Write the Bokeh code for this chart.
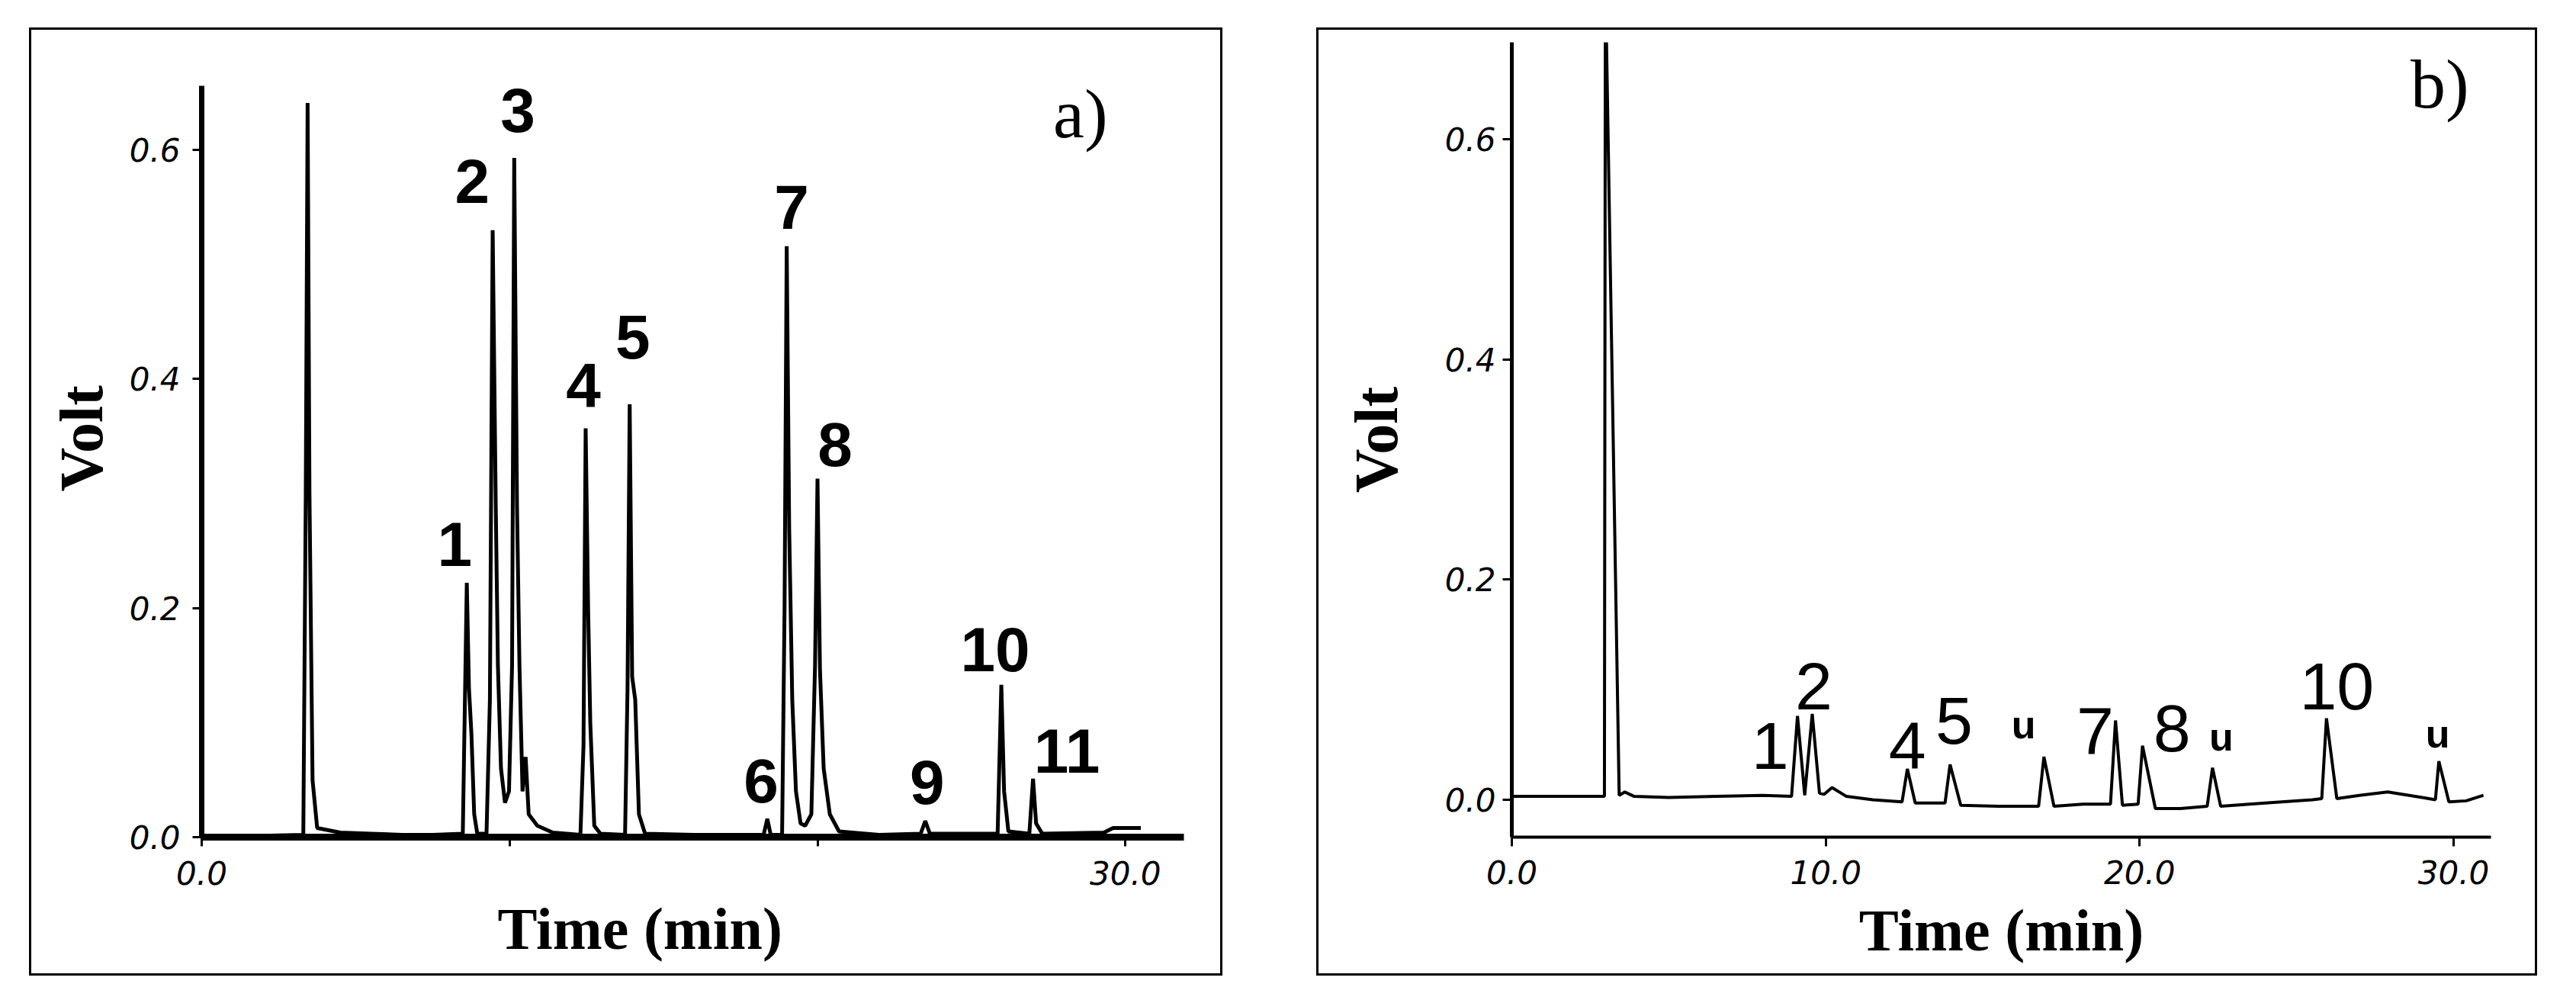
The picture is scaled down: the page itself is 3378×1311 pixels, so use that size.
from bokeh.plotting import figure
from bokeh.models import Label, FixedTicker, PrintfTickFormatter, Range1d, Spacer, Title
from bokeh.layouts import row, column
from bokeh.embed import file_html
from bokeh.resources import INLINE
from bokeh.core.properties import value

# ---------------- Panel a) data (time in min, signal in Volt) ----------------
time_a = [0.0, 3.30, 3.38, 3.44, 3.50, 3.60, 3.75, 4.5, 5.5, 6.5, 7.5,
          8.48, 8.61, 8.68, 8.76, 8.85, 8.95, 9.25, 9.36, 9.45, 9.55, 9.62, 9.72,
          9.85, 9.98, 10.08, 10.15, 10.24, 10.32, 10.42, 10.52, 10.62, 10.90, 11.40,
          12.30, 12.40, 12.47, 12.55, 12.62, 12.75, 12.95,
          13.75, 13.83, 13.90, 13.98, 14.08, 14.20, 14.40, 16.0,
          18.25, 18.37, 18.48, 18.85, 18.93, 19.00, 19.08, 19.18, 19.30, 19.45,
          19.60, 19.80, 19.92, 20.00, 20.08, 20.20, 20.40, 20.70, 22.0,
          23.35, 23.50, 23.65, 25.85, 25.97, 26.06, 26.20,
          26.88, 27.00, 27.10, 27.30, 29.30, 29.60, 30.50]
volt_a = [0.0, 0.002, 0.30, 0.641, 0.30, 0.05, 0.008, 0.004, 0.003, 0.002, 0.002,
          0.003, 0.222, 0.13, 0.09, 0.02, 0.003, 0.003, 0.12, 0.530, 0.29, 0.15, 0.06,
          0.03, 0.04, 0.15, 0.593, 0.29, 0.15, 0.04, 0.07, 0.02, 0.01, 0.004,
          0.002, 0.08, 0.357, 0.20, 0.10, 0.01, 0.003,
          0.002, 0.13, 0.378, 0.14, 0.12, 0.02, 0.003, 0.002,
          0.002, 0.016, 0.002, 0.002, 0.20, 0.516, 0.27, 0.12, 0.04, 0.012,
          0.01, 0.02, 0.15, 0.313, 0.146, 0.06, 0.02, 0.005, 0.002,
          0.003, 0.014, 0.003, 0.003, 0.133, 0.04, 0.005,
          0.003, 0.051, 0.012, 0.003, 0.004, 0.008, 0.008]

peak_text_a = ["1", "2", "3", "4", "5", "6", "7", "8", "9", "10", "11"]
peak_time_a = [8.22, 8.79, 10.27, 12.40, 14.00, 18.17, 19.16, 20.57, 23.56, 25.77, 28.10]
peak_volt_a = [0.256, 0.573, 0.635, 0.395, 0.437, 0.049, 0.550, 0.343, 0.048, 0.164, 0.075]

# ---------------- Panel b) data ----------------
time_b = [0.0, 2.95, 2.98, 3.42, 3.60, 3.90, 5.0, 6.5, 8.0,
          8.91, 9.10, 9.33, 9.57, 9.80, 9.95, 10.20, 10.66, 11.50,
          12.43, 12.60, 12.85, 13.80, 13.96, 14.30, 15.50,
          16.78, 16.95, 17.27, 18.20, 19.07, 19.23, 19.45, 19.95, 20.09, 20.50, 21.30,
          22.15, 22.32, 22.58, 24.00, 25.50, 25.80, 25.95, 26.28, 27.00, 27.90,
          29.00, 29.42, 29.53, 29.85, 30.40, 30.95]
volt_b = [0.003, 0.003, 0.75, 0.004, 0.007, 0.003, 0.002, 0.003, 0.004,
          0.003, 0.076, 0.004, 0.078, 0.006, 0.005, 0.011, 0.003, 0.000,
          -0.002, 0.028, -0.003, -0.003, 0.032, -0.005, -0.006,
          -0.006, 0.039, -0.006, -0.004, -0.004, 0.072, -0.005, -0.004, 0.049, -0.008, -0.008,
          -0.006, 0.029, -0.006, -0.003, 0.000, 0.001, 0.074, 0.001, 0.004, 0.007,
          0.002, 0.000, 0.035, -0.002, -0.001, 0.004]

peak_text_b = ["1", "2", "4", "5", "7", "8", "10"]
peak_time_b = [8.23, 9.62, 12.60, 14.09, 18.58, 21.03, 26.28]
peak_volt_b = [0.049, 0.103, 0.049, 0.072, 0.062, 0.065, 0.103]

unknown_text_b = ["u", "u", "u"]
unknown_time_b = [16.30, 22.60, 29.49]
unknown_volt_b = [0.068, 0.057, 0.060]

x_ticks = [0, 10, 20, 30]
y_ticks = [0.0, 0.2, 0.4, 0.6]

TICK_FONT = "DejaVu Sans"
SERIF = "Liberation Serif"
SANS = "Liberation Sans"


def style(p, x_axis_w, y_axis_w):
    p.xgrid.visible = False
    p.ygrid.visible = False
    p.outline_line_color = None
    p.background_fill_color = "white"
    p.border_fill_color = "white"
    try:
        p.frame_align = False
    except AttributeError:
        pass
    for ax, w in ((p.xaxis[0], x_axis_w), (p.yaxis[0], y_axis_w)):
        ax.axis_line_width = w
        ax.axis_line_color = "black"
        ax.major_tick_line_width = 3
        ax.major_tick_line_color = "black"
        ax.major_tick_in = 0
        ax.major_tick_out = 12
        ax.minor_tick_line_color = None
        ax.major_label_text_font = TICK_FONT
        ax.major_label_text_font_style = "italic"
        ax.major_label_text_font_size = "42px"
        ax.major_label_text_color = "black"
        ax.axis_label_text_font = SERIF
        ax.axis_label_text_font_style = "bold"
        ax.axis_label_text_font_size = "80px"
        ax.axis_label_text_color = "black"
    p.xaxis[0].ticker = FixedTicker(ticks=x_ticks)
    p.yaxis[0].ticker = FixedTicker(ticks=y_ticks)
    p.xaxis[0].formatter = PrintfTickFormatter(format="%.1f")
    p.yaxis[0].formatter = PrintfTickFormatter(format="%.1f")


# ---------------- Panel a ----------------
pa = figure(width=1565, height=1243, title=None,
            x_range=Range1d(0, 31.9), y_range=Range1d(0, 0.656),
            output_backend="svg", toolbar_location=None,
            min_border_left=223, min_border_right=54,
            min_border_top=73, min_border_bottom=185)
style(pa, 9, 7)
pa.xaxis[0].major_label_overrides = {10: "", 20: ""}
pa.xaxis[0].major_label_standoff = 19
pa.yaxis[0].major_label_standoff = 16

pa.line(time_a, volt_a, line_color="black", line_width=5)
pa.text(peak_time_a, peak_volt_a, text=peak_text_a,
        text_font=value(SANS), text_font_style="bold", text_font_size="82px",
        text_align="center", text_baseline="middle", text_color="black")
pa.add_layout(Label(x=28.54, y=0.632, text="a)", text_font=SERIF,
                    text_font_size="92px", text_align="center",
                    text_baseline="middle", text_color="black"))
pa.add_layout(Title(text="Time (min)", align="left", offset=388, standoff=18,
                    text_font=SERIF, text_font_style="bold",
                    text_font_size="78px", text_color="black"), "below")
pa.add_layout(Title(text="Volt", align="left", offset=453, standoff=32,
                    text_font=SERIF, text_font_style="bold",
                    text_font_size="80px", text_color="black"), "left")
pa.styles = {"border": "3px solid black"}

# ---------------- Panel b ----------------
pb = figure(width=1601, height=1243, title=None,
            x_range=Range1d(0, 31.19), y_range=Range1d(-0.034, 0.688),
            output_backend="svg", toolbar_location=None,
            min_border_left=253, min_border_right=64,
            min_border_top=16, min_border_bottom=185)
style(pb, 4, 5)
pb.xaxis[0].major_label_standoff = 18
pb.yaxis[0].major_label_standoff = 9
pb.xaxis[0].axis_label = "Time (min)"
pb.xaxis[0].axis_label_standoff = 14
pb.xaxis[0].axis_label_text_font_size = "78px"
pb.yaxis[0].axis_label = "Volt"
pb.yaxis[0].axis_label_standoff = 43

pb.line(time_b, volt_b, line_color="black", line_width=4)
pb.text(peak_time_b, peak_volt_b, text=peak_text_b,
        text_font=value(SANS), text_font_size="88px",
        text_align="center", text_baseline="middle", text_color="black")
pb.text(unknown_time_b, unknown_volt_b, text=unknown_text_b,
        text_font=value(SANS), text_font_style="bold", text_font_size="52px",
        text_align="center", text_baseline="middle", text_color="black")
pb.add_layout(Label(x=29.56, y=0.650, text="b)", text_font=SERIF,
                    text_font_size="92px", text_align="center",
                    text_baseline="middle", text_color="black"))
pb.styles = {"border": "3px solid black"}

layout = column(Spacer(height=36),
                row(Spacer(width=38), pa, Spacer(width=123), pb))

open("out.html", "w").write(file_html(layout, INLINE))
